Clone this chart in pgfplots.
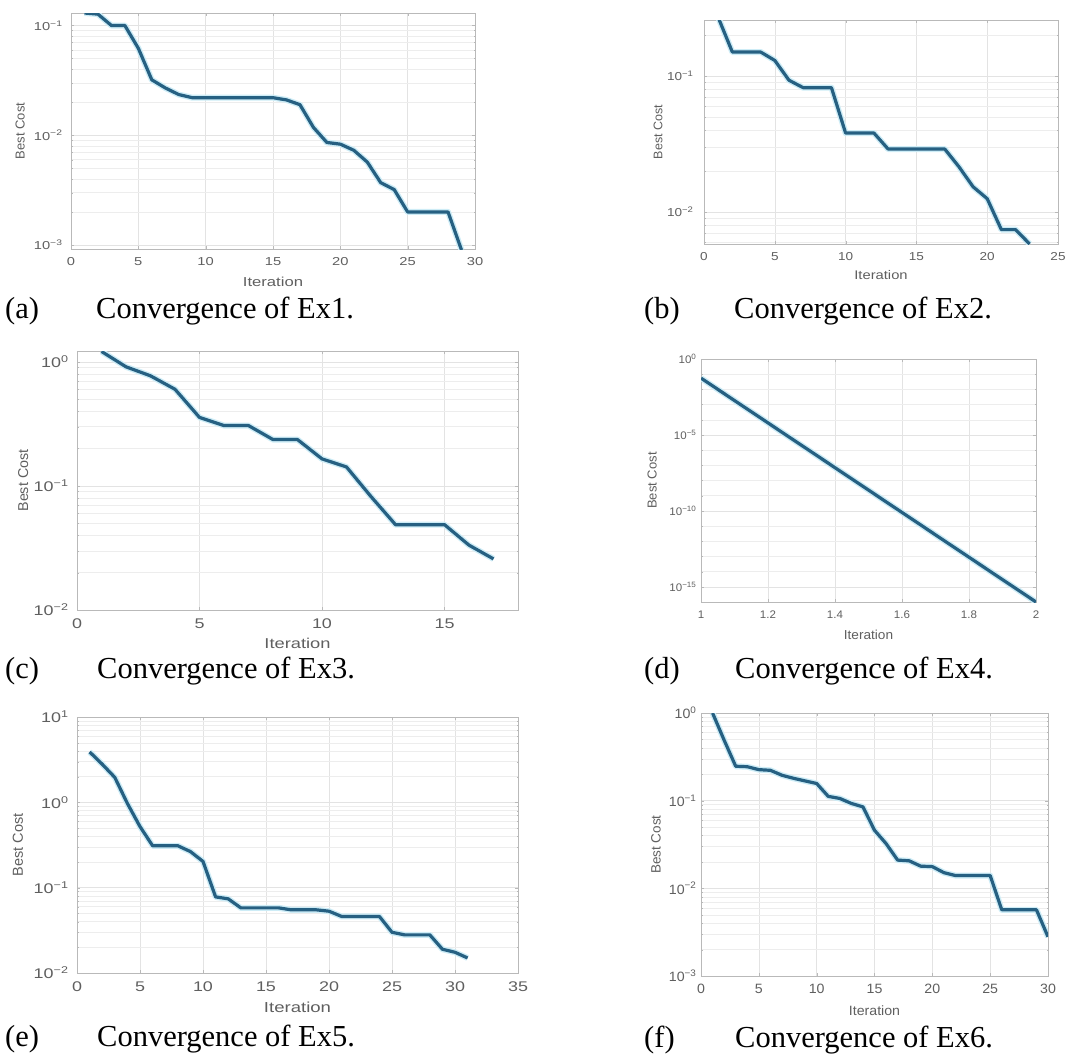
\documentclass[border=0pt]{standalone}
\usepackage{fontspec}
\setmainfont{Liberation Serif}
\newfontfamily\axfont{Liberation Sans}
\newfontfamily\sA[FakeStretch=1.28]{Liberation Sans}
\newfontfamily\sB[FakeStretch=1.18]{Liberation Sans}
\newfontfamily\sC[FakeStretch=1.05]{Liberation Sans}
\usepackage{pgfplots}
\pgfplotsset{compat=1.18}
\pgfkeys{/pgf/number format/assume math mode=true}

\definecolor{curve}{RGB}{38,96,130}
\definecolor{halo}{RGB}{205,236,246}
\definecolor{axtext}{RGB}{95,95,95}
\newcommand\pw[1]{10\textsuperscript{#1}}

\pgfplotsset{
  convax/.style={
    scale only axis, anchor=north west,
    axis line style={gray!55},
    grid=both, major grid style={gray!22}, minor grid style={gray!14},
    tick style={gray!55}, tick align=inside,
    major tick length=3bp, minor tick length=1.5bp,
    xlabel=Iteration, ylabel=Best Cost,
    label style={text=axtext},
    ticklabel style={text=axtext},
  },
  % #1 stretched family, #2 tick size, #3 label size, #4 ytick label shift
  pfont/.style n args={4}{
    xticklabel style={font=#1\fontsize{#2}{#2}\selectfont, yshift=-5bp},
    yticklabel style={font=#1\fontsize{#2}{#2}\selectfont, xshift=#4},
    xlabel style={font=#1\fontsize{#3}{#3}\selectfont},
    ylabel style={font=\axfont\fontsize{#3}{#3}\selectfont},
  },
}
\tikzset{curvestyle/.style={curve, line width=3.2bp, line join=round,
    preaction={draw, halo, line width=6bp, line join=round}}}

\begin{document}
\begin{tikzpicture}
\path (0bp,0bp) rectangle (1092bp,-1057bp);

% (a)
\begin{axis}[ymode=log, convax, pfont={\sA}{11.5bp}{13bp}{-5bp},
  at={(71bp,-13bp)}, width=404bp, height=236bp,
  xmin=0, xmax=30, xtick={0,5,...,30},
  ymin=9.2e-4, ymax=0.13,
  ytick={1e-3,1e-2,1e-1}, yticklabels={\pw{−3},\pw{−2},\pw{−1}},
  minor ytick={2e-3,3e-3,4e-3,5e-3,6e-3,7e-3,8e-3,9e-3,2e-2,3e-2,4e-2,5e-2,6e-2,7e-2,8e-2,9e-2},
  xlabel style={at={(axis description cs:0.5,-0.14)}, anchor=center},
  ylabel style={at={(axis description cs:-0.126,0.5)}, anchor=center}]
\addplot[curvestyle] coordinates {(1,0.13)(2,0.127)(3,0.1)(4,0.1)(5,0.062)(6,0.032)(7,0.027)(8,0.0235)
 (9,0.022)(10,0.022)(11,0.022)(12,0.022)(13,0.022)(14,0.022)(15,0.022)(16,0.021)(17,0.019)
 (18,0.0118)(19,0.0086)(20,0.0083)(21,0.0073)(22,0.0057)(23,0.0037)(24,0.0032)(25,0.002)
 (26,0.002)(27,0.002)(28,0.002)(29,0.0009)};
\end{axis}

% (b)
\begin{axis}[ymode=log, convax, pfont={\sB}{11.5bp}{12.5bp}{-7bp},
  at={(704bp,-20bp)}, width=354bp, height=224bp,
  xmin=0, xmax=25, xtick={0,5,...,25},
  ymin=0.0058, ymax=0.258,
  ytick={1e-2,1e-1}, yticklabels={\pw{−2},\pw{−1}},
  minor ytick={6e-3,7e-3,8e-3,9e-3,2e-2,3e-2,4e-2,5e-2,6e-2,7e-2,8e-2,9e-2,2e-1},
  xlabel style={at={(axis description cs:0.5,-0.138)}, anchor=center},
  ylabel style={at={(axis description cs:-0.13,0.5)}, anchor=center}]
\addplot[curvestyle] coordinates {(1,0.27)(2,0.15)(3,0.15)(4,0.15)(5,0.13)(6,0.093)(7,0.082)(8,0.082)
 (9,0.082)(10,0.038)(11,0.038)(12,0.038)(13,0.029)(14,0.029)(15,0.029)(16,0.029)(17,0.029)
 (18,0.0215)(19,0.0153)(20,0.0125)(21,0.0074)(22,0.0074)(23,0.0058)};
\end{axis}

% (c)
\begin{axis}[ymode=log, convax, pfont={\sA}{14bp}{14.3bp}{-5bp},
  at={(77bp,-351bp)}, width=441bp, height=259bp,
  xmin=0, xmax=18, xtick={0,5,10,15},
  ymin=0.01, ymax=1.22,
  ytick={1e-2,1e-1,1}, yticklabels={\pw{−2},\pw{−1},\pw{0}},
  minor ytick={2e-2,3e-2,4e-2,5e-2,6e-2,7e-2,8e-2,9e-2,2e-1,3e-1,4e-1,5e-1,6e-1,7e-1,8e-1,9e-1},
  xlabel style={at={(axis description cs:0.5,-0.127)}, anchor=center},
  ylabel style={at={(axis description cs:-0.122,0.5)}, anchor=center}]
\addplot[curvestyle] coordinates {(1,1.21)(2,0.91)(3,0.77)(4,0.6)(5,0.356)(6,0.306)(7,0.306)(8,0.236)
 (9,0.236)(10,0.165)(11,0.142)(12,0.082)(13,0.0487)(14,0.0487)(15,0.0487)(16,0.0333)(17,0.0258)};
\end{axis}

% (d)
\begin{axis}[ymode=log, convax, pfont={\sC}{11bp}{13bp}{-1bp},
  at={(701bp,-359bp)}, width=335bp, height=243bp,
  xmin=1, xmax=2, xtick={1,1.2,1.4,1.6,1.8,2},
  ymin=1e-16, ymax=1,
  ytick={1e-15,1e-10,1e-5,1}, yticklabels={\pw{−15},\pw{−10},\pw{−5},\pw{0}},
  minor ytick={1e-16,1e-14,1e-13,1e-12,1e-11,1e-9,1e-8,1e-7,1e-6,1e-4,1e-3,1e-2,1e-1},
  xlabel style={at={(axis description cs:0.5,-0.136)}, anchor=center},
  ylabel style={at={(axis description cs:-0.146,0.5)}, anchor=center}]
\addplot[curvestyle] coordinates {(1,0.055)(2,1e-16)};
\end{axis}

% (e)
\begin{axis}[ymode=log, convax, pfont={\sA}{14bp}{14.5bp}{-5bp},
  at={(77bp,-717bp)}, width=441bp, height=256bp,
  xmin=0, xmax=35, xtick={0,5,...,35},
  ymin=0.01, ymax=10,
  ytick={1e-2,1e-1,1,10}, yticklabels={\pw{−2},\pw{−1},\pw{0},\pw{1}},
  minor ytick={2e-2,3e-2,4e-2,5e-2,6e-2,7e-2,8e-2,9e-2,2e-1,3e-1,4e-1,5e-1,6e-1,7e-1,8e-1,9e-1,2,3,4,5,6,7,8,9},
  xlabel style={at={(axis description cs:0.5,-0.133)}, anchor=center},
  ylabel style={at={(axis description cs:-0.134,0.5)}, anchor=center}]
\addplot[curvestyle] coordinates {(1,3.9)(2,2.8)(3,1.96)(4,0.97)(5,0.52)(6,0.31)(7,0.31)(8,0.31)
 (9,0.265)(10,0.203)(11,0.078)(12,0.074)(13,0.058)(14,0.058)(15,0.058)(16,0.058)(17,0.055)
 (18,0.055)(19,0.055)(20,0.053)(21,0.046)(22,0.046)(23,0.046)(24,0.046)(25,0.03)(26,0.028)
 (27,0.028)(28,0.028)(29,0.019)(30,0.0175)(31,0.015)};
\end{axis}

% (f)
\begin{axis}[ymode=log, convax, pfont={\sC}{13.5bp}{13.5bp}{-1bp},
  at={(701bp,-713bp)}, width=347bp, height=263bp,
  xmin=0, xmax=30, xtick={0,5,...,30},
  ymin=0.001, ymax=1,
  ytick={1e-3,1e-2,1e-1,1}, yticklabels={\pw{−3},\pw{−2},\pw{−1},\pw{0}},
  minor ytick={2e-3,3e-3,4e-3,5e-3,6e-3,7e-3,8e-3,9e-3,2e-2,3e-2,4e-2,5e-2,6e-2,7e-2,8e-2,9e-2,2e-1,3e-1,4e-1,5e-1,6e-1,7e-1,8e-1,9e-1},
  xlabel style={at={(axis description cs:0.5,-0.133)}, anchor=center},
  ylabel style={at={(axis description cs:-0.13,0.5)}, anchor=center}]
\addplot[curvestyle] coordinates {(1,1.0)(2,0.49)(3,0.247)(4,0.244)(5,0.226)(6,0.222)(7,0.195)(8,0.18)
 (9,0.168)(10,0.157)(11,0.112)(12,0.106)(13,0.093)(14,0.085)(15,0.046)(16,0.0324)(17,0.021)
 (18,0.0206)(19,0.0179)(20,0.0177)(21,0.0151)(22,0.014)(23,0.014)(24,0.014)(25,0.014)
 (26,0.0057)(27,0.0057)(28,0.0057)(29,0.0057)(30,0.0028)};
\end{axis}

% captions
\begin{scope}[every node/.style={anchor=base west, inner sep=0pt,
  font=\fontsize{30.5bp}{32bp}\selectfont}]
\node at (5bp,-318bp) {(a)};   \node at (96bp,-318bp) {Convergence of Ex1.};
\node at (644bp,-318bp) {(b)}; \node at (734bp,-318bp) {Convergence of Ex2.};
\node at (5bp,-678bp) {(c)};   \node at (97bp,-678bp) {Convergence of Ex3.};
\node at (644bp,-678bp) {(d)}; \node at (735bp,-678bp) {Convergence of Ex4.};
\node at (5bp,-1046bp) {(e)};  \node at (97bp,-1046bp) {Convergence of Ex5.};
\node at (644bp,-1047bp) {(f)}; \node at (735bp,-1047bp) {Convergence of Ex6.};
\end{scope}
\end{tikzpicture}
\end{document}
